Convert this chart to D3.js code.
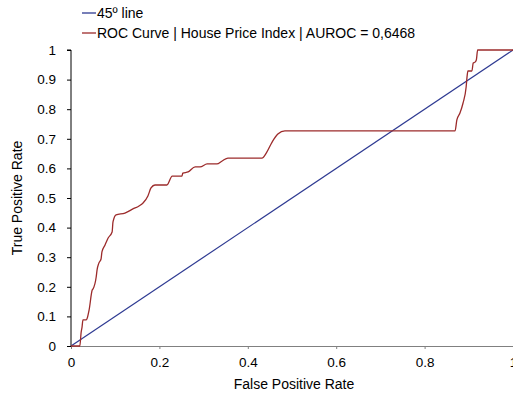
<!DOCTYPE html>
<html>
<head>
<meta charset="utf-8">
<script src="https://cdn.jsdelivr.net/npm/d3@7"></script>
<style>
  body { margin: 0; background: #fff; }
  text { font-family: "Liberation Sans", Arial, sans-serif; fill: #000; }
</style>
</head>
<body>
<div id="chart"></div>
<script>
// valores
const rocFpr = [0, 0.020, 0.023, 0.025, 0.027, 0.034, 0.036, 0.041, 0.048, 0.050, 0.057, 0.059, 0.063,
  0.068, 0.070, 0.077, 0.084, 0.093, 0.095, 0.102, 0.122, 0.140, 0.154, 0.163, 0.174, 0.181, 0.190,
  0.217, 0.229, 0.251, 0.253, 0.265, 0.281, 0.292, 0.308, 0.330, 0.342, 0.355, 0.432, 0.443, 0.455,
  0.468, 0.484, 0.869, 0.873, 0.880, 0.887, 0.894, 0.896, 0.898, 0.907, 0.910, 0.914, 0.917, 0.920, 1];
const rocTpr = [0, 0, 0.047, 0.064, 0.088, 0.088, 0.091, 0.122, 0.189, 0.193, 0.233, 0.257, 0.280,
  0.294, 0.318, 0.341, 0.365, 0.385, 0.419, 0.443, 0.449, 0.463, 0.473, 0.483, 0.507, 0.534, 0.544,
  0.544, 0.574, 0.574, 0.584, 0.588, 0.605, 0.605, 0.615, 0.615, 0.625, 0.635, 0.635, 0.655, 0.689,
  0.716, 0.727, 0.727, 0.764, 0.787, 0.821, 0.875, 0.909, 0.929, 0.929, 0.956, 0.959, 0.966, 1, 1];
const diagFpr = [0, 1];
const diagTpr = [0, 1];
const xTicks = [0, 0.2, 0.4, 0.6, 0.8, 1];
const yTicks = [0, 0.1, 0.2, 0.3, 0.4, 0.5, 0.6, 0.7, 0.8, 0.9, 1];
const legendLabels = ["45º line", "ROC Curve | House Price Index | AUROC = 0,6468"];

const width = 513, height = 396;
const margin = { top: 50, right: 0, bottom: 50, left: 71 };
const blue = "#2e3a92", red = "#9c2b2b";

const svg = d3.select("#chart").append("svg")
  .attr("width", width)
  .attr("height", height);

const x = d3.scaleLinear().domain([0, 1]).range([margin.left, 513]);
const y = d3.scaleLinear().domain([0, 1]).range([height - margin.bottom, margin.top]);

// eje X
const gx = svg.append("g")
  .attr("transform", `translate(0,${y(0)})`)
  .call(d3.axisBottom(x).tickValues(xTicks).tickSize(3).tickPadding(8)
    .tickFormat(d => d === 0 || d === 1 ? d3.format("d")(d) : d3.format(".1f")(d)));
gx.select(".domain").attr("stroke", "#808080");
gx.selectAll(".tick line").attr("stroke", "#808080");
gx.selectAll("text").style("font-size", "13.5px");

// eje Y
const gy = svg.append("g")
  .attr("transform", `translate(${margin.left},0)`)
  .call(d3.axisLeft(y).tickValues(yTicks).tickSize(4).tickPadding(11)
    .tickFormat(d => d === 0 || d === 1 ? d3.format("d")(d) : d3.format(".1f")(d)));
gy.select(".domain").attr("stroke", "#000").attr("d", `M-4,${y(1)}H0V${y(0)}`);
gy.selectAll("text").style("font-size", "13.5px");

// línea de 45º
const diag = diagFpr.map((d, i) => [d, diagTpr[i]]);
svg.append("path")
  .datum(diag)
  .attr("fill", "none")
  .attr("stroke", blue)
  .attr("stroke-width", 1.2)
  .attr("d", d3.line().x(d => x(d[0])).y(d => y(d[1])));

// curva ROC
const roc = rocFpr.map((d, i) => [d, rocTpr[i]]);
svg.append("path")
  .datum(roc)
  .attr("fill", "none")
  .attr("stroke", red)
  .attr("stroke-width", 1.3)
  .attr("d", d3.line().curve(d3.curveMonotoneX).x(d => x(d[0])).y(d => y(d[1])));

// títulos de ejes
svg.append("text")
  .attr("x", 294)
  .attr("y", 389)
  .attr("text-anchor", "middle")
  .style("font-size", "14px")
  .text("False Positive Rate");

svg.append("text")
  .attr("transform", `translate(22,198) rotate(-90)`)
  .attr("text-anchor", "middle")
  .style("font-size", "14px")
  .text("True Positive Rate");

// leyenda
const legend = svg.append("g");
[blue, red].forEach((c, i) => {
  const ly = 13 + i * 20;
  legend.append("line")
    .attr("x1", 82).attr("x2", 96)
    .attr("y1", ly).attr("y2", ly)
    .attr("stroke", c)
    .attr("stroke-width", 1.3);
  legend.append("text")
    .attr("x", 97)
    .attr("y", ly + 5)
    .style("font-size", "14px")
    .text(legendLabels[i]);
});
</script>
</body>
</html>
